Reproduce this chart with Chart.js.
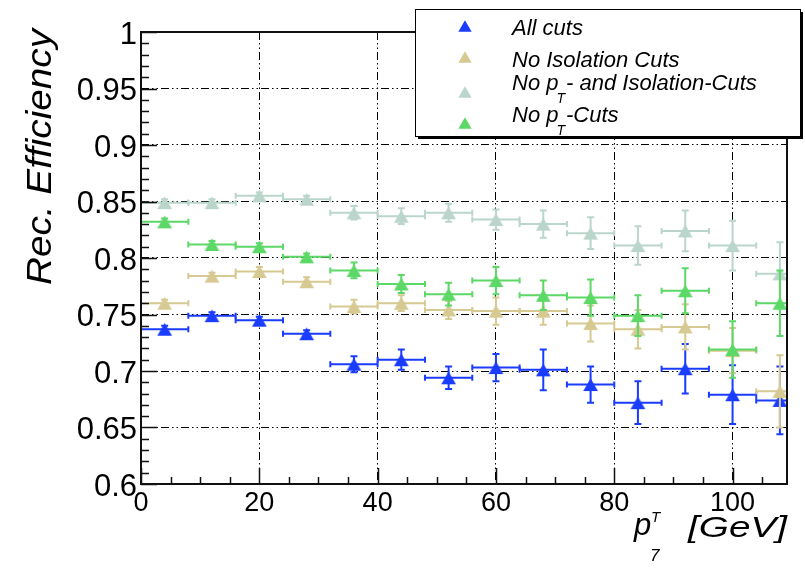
<!DOCTYPE html>
<html><head><meta charset="utf-8">
<script src="https://cdn.jsdelivr.net/npm/chart.js@4.4.1/dist/chart.umd.min.js"></script>
<style>html,body{margin:0;padding:0;background:#fff;}canvas{display:block;}</style>
</head><body>
<canvas id="c" width="805" height="573"></canvas>
<script>
// ---------- data ----------
const binCenters   = [4, 12, 20, 28, 36, 44, 52, 60, 68, 76, 84, 92, 100, 108];
const binHalfWidth = [4, 4, 4, 4, 4, 4, 4, 4, 4, 4, 4, 4, 4, 4];

const allCuts      = [0.737, 0.749, 0.745, 0.733, 0.706, 0.710, 0.694, 0.703, 0.701, 0.688, 0.672, 0.702, 0.679, 0.674];
const allCutsErr   = [0.003, 0.003, 0.003, 0.003, 0.007, 0.009, 0.010, 0.012, 0.018, 0.016, 0.019, 0.022, 0.026, 0.030];

const noIso        = [0.760, 0.784, 0.788, 0.779, 0.757, 0.760, 0.754, 0.753, 0.753, 0.742, 0.737, 0.739, 0.718, 0.682];
const noIsoErr     = [0.003, 0.003, 0.004, 0.004, 0.006, 0.007, 0.008, 0.012, 0.012, 0.016, 0.017, 0.020, 0.020, 0.032];

const noPtIso      = [0.849, 0.849, 0.855, 0.852, 0.840, 0.837, 0.840, 0.834, 0.830, 0.822, 0.811, 0.824, 0.811, 0.786];
const noPtIsoErr   = [0.003, 0.003, 0.003, 0.003, 0.006, 0.007, 0.008, 0.009, 0.012, 0.014, 0.017, 0.018, 0.022, 0.028];

const noPt         = [0.832, 0.812, 0.810, 0.801, 0.789, 0.777, 0.768, 0.780, 0.767, 0.765, 0.749, 0.771, 0.719, 0.760];
const noPtErr      = [0.003, 0.003, 0.003, 0.003, 0.007, 0.008, 0.010, 0.012, 0.013, 0.016, 0.018, 0.020, 0.025, 0.029];

const xTickValues = [0, 20, 40, 60, 80, 100];
const xTickLabels = ['0', '20', '40', '60', '80', '100'];
const yTickValues = [0.6, 0.65, 0.7, 0.75, 0.8, 0.85, 0.9, 0.95, 1];
const yTickLabels = ['0.6', '0.65', '0.7', '0.75', '0.8', '0.85', '0.9', '0.95', '1'];

const seriesNames = ['All cuts', 'No Isolation Cuts', 'No p_T- and Isolation-Cuts', 'No p_T-Cuts'];
// legend texts as segments (text, 'n' normal | 'sub')
const legendSegments = [
  [['All cuts', 'n']],
  [['No Isolation Cuts', 'n']],
  [['No p', 'n'], ['T', 'sub'], ['- and Isolation-Cuts', 'n']],
  [['No p', 'n'], ['T', 'sub'], ['-Cuts', 'n']]
];
const yTitle = 'Rec. Efficiency';
const xTitleMain = 'p';
const xTitleSup = 'T';
const xTitleSub = '7';
const xTitleUnit = '[GeV]';

const colors = ['#1a3cff', '#d6c991', '#bad6cb', '#5cd866'];

// ---------- helpers ----------
const FONT = '"Liberation Sans", Arial, Helvetica, sans-serif';
function pts(vals) { return binCenters.map((x, i) => ({ x: x, y: vals[i] })); }

// triangle centred on its bounding box (ROOT style marker)
function drawTri(ctx, x, y, r, color) {
  const h = 1.5 * r, hw = 0.866 * r;
  ctx.beginPath();
  ctx.moveTo(x, y - h / 2);
  ctx.lineTo(x + hw, y + h / 2);
  ctx.lineTo(x - hw, y + h / 2);
  ctx.closePath();
  ctx.fillStyle = color; ctx.fill();
}
function triImage(r, color) {
  const cv = document.createElement('canvas');
  cv.width = Math.ceil(1.732 * r) + 2;
  cv.height = Math.ceil(1.5 * r) + 2;
  drawTri(cv.getContext('2d'), cv.width / 2, cv.height / 2, r, color);
  return cv;
}

const errorBars = {
  id: 'errorBars',
  beforeDatasetDraw(chart, args) {
    const ds = chart.data.datasets[args.index];
    const xs = chart.scales.x, ys = chart.scales.y, ca = chart.chartArea, ctx = chart.ctx;
    ctx.save();
    ctx.beginPath(); ctx.rect(ca.left, ca.top, ca.right - ca.left, ca.bottom - ca.top); ctx.clip();
    ctx.strokeStyle = ds.borderColor; ctx.lineWidth = 2; ctx.setLineDash([]);
    ds.data.forEach((p, i) => {
      const ex = ds.xErr[i], ey = ds.yErr[i];
      const x0 = xs.getPixelForValue(p.x - ex), x1 = xs.getPixelForValue(p.x + ex);
      const y0 = ys.getPixelForValue(p.y - ey), y1 = ys.getPixelForValue(p.y + ey);
      const cx = xs.getPixelForValue(p.x), cy = ys.getPixelForValue(p.y);
      ctx.beginPath();
      ctx.moveTo(x0, cy); ctx.lineTo(x1, cy);
      ctx.moveTo(x0, cy - 3); ctx.lineTo(x0, cy + 3);
      ctx.moveTo(x1, cy - 3); ctx.lineTo(x1, cy + 3);
      ctx.moveTo(cx, y0); ctx.lineTo(cx, y1);
      ctx.moveTo(cx - 3.5, y0); ctx.lineTo(cx + 3.5, y0);
      ctx.moveTo(cx - 3.5, y1); ctx.lineTo(cx + 3.5, y1);
      ctx.stroke();
    });
    ctx.restore();
  }
};

const frameTicks = {
  id: 'frameTicks',
  afterDatasetsDraw(chart) {
    const xs = chart.scales.x, ys = chart.scales.y, ca = chart.chartArea, ctx = chart.ctx;
    ctx.save();
    ctx.strokeStyle = '#111'; ctx.setLineDash([]);
    ctx.lineWidth = 2;
    ctx.strokeRect(ca.left, ca.top, ca.right - ca.left, ca.bottom - ca.top);
    ctx.lineWidth = 1.5;
    ctx.beginPath();
    for (let k = 0; k <= 40; k++) {
      const v = 0.6 + k * 0.01;
      const y = Math.round(ys.getPixelForValue(v)) + 0.5;
      const len = (k % 5 === 0) ? 16 : 8;
      ctx.moveTo(ca.left, y); ctx.lineTo(ca.left + len, y);
    }
    for (let k = 0; k * 5 <= xs.max; k++) {
      const x = Math.round(xs.getPixelForValue(k * 5)) + 0.5;
      const len = (k % 4 === 0) ? 16 : 7;
      ctx.moveTo(x, ca.bottom); ctx.lineTo(x, ca.bottom - len);
    }
    ctx.stroke();
    ctx.restore();
  }
};

const annotations = {
  id: 'annotations',
  afterDraw(chart) {
    const ctx = chart.ctx;
    ctx.save();
    ctx.setLineDash([]);
    // legend box
    ctx.fillStyle = '#fff';
    ctx.fillRect(415, 9, 386, 128);
    ctx.strokeStyle = '#000'; ctx.lineWidth = 1;
    ctx.strokeRect(415.5, 9.5, 385, 127);
    ctx.fillStyle = '#000';
    ctx.fillRect(418, 136, 385, 3);
    ctx.fillRect(800, 12, 3, 127);
    const markerY = [26, 57, 92, 123];
    const baseY = [35, 66.5, 90, 121.5];
    legendSegments.forEach((segs, i) => {
      drawTri(ctx, 465, markerY[i], 7.7, colors[i]);
      let x = 512;
      ctx.fillStyle = '#000';
      ctx.textAlign = 'left'; ctx.textBaseline = 'alphabetic';
      segs.forEach(([t, kind]) => {
        if (kind === 'sub') {
          ctx.font = 'italic 14px ' + FONT;
          ctx.fillText(t, x - 2, baseY[i] + 13);
          x += ctx.measureText(t).width - 1;
        } else {
          ctx.font = 'italic 22px ' + FONT;
          ctx.fillText(t, x, baseY[i]);
          x += ctx.measureText(t).width;
        }
      });
    });
    // y title
    ctx.save();
    ctx.translate(51, 285);
    ctx.rotate(-Math.PI / 2);
    ctx.font = 'italic 35px ' + FONT;
    const w = ctx.measureText(yTitle).width;
    ctx.scale(256 / w, 1);
    ctx.fillStyle = '#000';
    ctx.textAlign = 'left'; ctx.textBaseline = 'alphabetic';
    ctx.fillText(yTitle, 0, 0);
    ctx.restore();
    // x title
    ctx.fillStyle = '#000';
    ctx.textAlign = 'left'; ctx.textBaseline = 'alphabetic';
    ctx.font = 'italic 31px ' + FONT;
    ctx.fillText(xTitleMain, 634, 535);
    ctx.font = 'italic 15px ' + FONT;
    ctx.fillText(xTitleSup, 651, 522);
    ctx.font = 'italic 17px ' + FONT;
    ctx.fillText(xTitleSub, 650, 561);
    ctx.save();
    ctx.font = 'italic 29px ' + FONT;
    const wu = ctx.measureText(xTitleUnit).width;
    ctx.translate(688, 537);
    ctx.scale(99 / wu, 1);
    ctx.fillText(xTitleUnit, 0, 0);
    ctx.restore();
    ctx.restore();
  }
};

const dash = [8, 3, 1.5, 3, 1.5, 3];
const seriesVals = [allCuts, noIso, noPtIso, noPt];
const seriesErrs = [allCutsErr, noIsoErr, noPtIsoErr, noPtErr];

new Chart(document.getElementById('c'), {
  type: 'scatter',
  data: {
    datasets: seriesNames.map((name, i) => ({
      label: name,
      data: pts(seriesVals[i]),
      xErr: binHalfWidth,
      yErr: seriesErrs[i],
      showLine: false,
      pointStyle: triImage(8.5, colors[i]),
      pointRadius: 8,
      pointHoverRadius: 8,
      borderWidth: 0,
      backgroundColor: colors[i],
      borderColor: colors[i],
      order: 4 - i
    }))
  },
  options: {
    responsive: false,
    animation: false,
    events: [],
    layout: { padding: { left: 0, right: 18, top: 32, bottom: 0 } },
    plugins: { legend: { display: false }, tooltip: { enabled: false }, title: { display: false } },
    scales: {
      x: {
        type: 'linear', min: 0, max: 109.2,
        afterBuildTicks(s) { s.ticks = xTickValues.map(v => ({ value: v })); },
        afterFit(s) { s.height = 89; },
        ticks: {
          callback(v) { const k = xTickValues.indexOf(v); return k >= 0 ? xTickLabels[k] : ''; },
          font: { family: FONT, size: 27 }, color: '#000', padding: 3, maxRotation: 0, autoSkip: false
        },
        grid: { color: '#000', lineWidth: 1, drawTicks: false },
        border: { display: false, dash: dash }
      },
      y: {
        type: 'linear', min: 0.6, max: 1.0,
        afterBuildTicks(s) { s.ticks = yTickValues.map(v => ({ value: v })); },
        afterFit(s) { s.width = 141; },
        ticks: {
          callback(v) { const k = yTickValues.findIndex(t => Math.abs(t - v) < 1e-9); return k >= 0 ? yTickLabels[k] : ''; },
          font: { family: FONT, size: 31 }, color: '#000', padding: 4, labelOffset: 3, autoSkip: false
        },
        grid: { color: '#000', lineWidth: 1, drawTicks: false },
        border: { display: false, dash: dash }
      }
    }
  },
  plugins: [errorBars, frameTicks, annotations]
});
</script>
</body></html>
